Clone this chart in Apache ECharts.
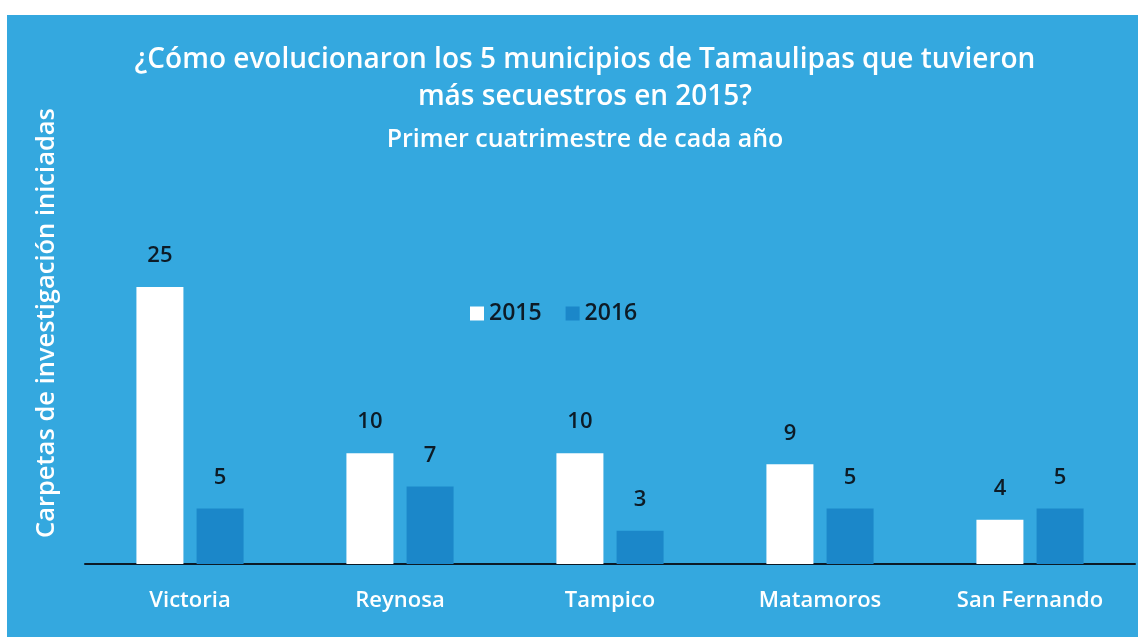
<!DOCTYPE html>
<html>
<head>
<meta charset="utf-8">
<script src="https://cdn.jsdelivr.net/npm/echarts@6/dist/echarts.min.js"></script>
<style>
  html, body { margin: 0; padding: 0; background: #fff; }
  #main { width: 1138px; height: 637px; }
</style>
</head>
<body>
<div id="main"></div>
<script>
const municipios = ["Victoria", "Reynosa", "Tampico", "Matamoros", "San Fernando"]
const valores2015 = [25, 10, 10, 9, 4]
const valores2016 = [5, 7, 3, 5, 5]
const seriesNames = ["2015", "2016"]

const FONT = "'Open Sans', 'Noto Sans', sans-serif"
const BG = "#34a8df"

const chart = echarts.init(document.getElementById("main"))

const labelStyle = {
  show: true,
  position: "top",
  distance: 20,
  color: "#0d1b26",
  fontSize: 22,
  fontWeight: 600,
  fontFamily: FONT
}

chart.setOption({
  backgroundColor: "#ffffff",
  animation: false,
  graphic: [
    {
      type: "rect",
      z: -10,
      silent: true,
      shape: { x: 7, y: 15, width: 1131, height: 622 },
      style: { fill: BG }
    },
    {
      type: "text",
      x: 47,
      y: 323,
      rotation: Math.PI / 2,
      style: {
        text: "Carpetas de investigación iniciadas",
        fill: "#ffffff",
        font: "600 25.5px " + FONT,
        textAlign: "center",
        textVerticalAlign: "middle"
      }
    }
  ],
  title: [
    {
      text: "¿Cómo evolucionaron los 5 municipios de Tamaulipas que tuvieron\nmás secuestros en 2015?",
      left: 580,
      top: 37,
      textAlign: "center",
      textStyle: {
        color: "#ffffff",
        fontSize: 28,
        fontWeight: 600,
        fontFamily: FONT,
        lineHeight: 37
      }
    },
    {
      text: "Primer cuatrimestre de cada año",
      left: 580,
      top: 122,
      textAlign: "center",
      textStyle: {
        color: "#ffffff",
        fontSize: 25,
        fontWeight: 600,
        fontFamily: FONT
      }
    }
  ],
  legend: {
    data: seriesNames,
    left: 465,
    top: 297,
    itemWidth: 14,
    itemHeight: 14,
    itemGap: 24,
    icon: "rect",
    textStyle: { color: "#0d1b26", fontSize: 23, fontWeight: 600, fontFamily: FONT }
  },
  grid: {
    left: 85,
    right: 3,
    top: 287,
    bottom: 73,
    containLabel: false
  },
  xAxis: {
    type: "category",
    data: municipios,
    axisLine: { lineStyle: { color: "#0c1a26", width: 2 } },
    axisTick: { show: false },
    axisLabel: {
      color: "#ffffff",
      fontSize: 22,
      fontWeight: 600,
      fontFamily: FONT,
      margin: 26
    }
  },
  yAxis: {
    type: "value",
    min: 0,
    max: 25,
    show: false
  },
  series: [
    {
      name: seriesNames[0],
      type: "bar",
      data: valores2015,
      barWidth: 47,
      barGap: "28%",
      itemStyle: { color: "#ffffff" },
      label: labelStyle
    },
    {
      name: seriesNames[1],
      type: "bar",
      data: valores2016,
      barWidth: 47,
      itemStyle: { color: "#1b87c9" },
      label: labelStyle
    }
  ]
})
</script>
</body>
</html>
